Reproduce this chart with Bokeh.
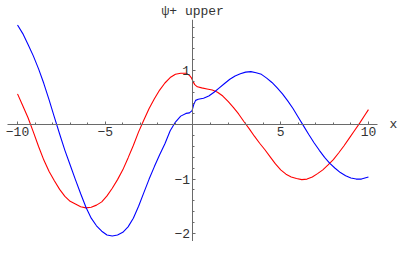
from bokeh.plotting import figure
from bokeh.models import LinearAxis, FixedTicker, Range1d, Label
from bokeh.embed import file_html
from bokeh.resources import INLINE

# ---- data ----
blue_x = [-10, -9.7, -9.4, -9.1, -8.8, -8.5, -8.2, -7.9, -7.6, -7.3, -7.0, -6.7, -6.4,
          -6.1, -5.8, -5.5, -5.2, -4.9, -4.6, -4.3, -4.0, -3.7, -3.4, -3.1, -2.8, -2.5,
          -2.2, -1.9, -1.6, -1.3, -1.0, -0.7, -0.4, -0.2, -0.05, 0.05, 0.15, 0.3, 0.6,
          0.9, 1.2, 1.5, 1.8, 2.1, 2.4, 2.7, 3.0, 3.3, 3.6, 3.9, 4.2, 4.5, 4.8, 5.1, 5.4,
          5.7, 6.0, 6.3, 6.6, 6.9, 7.2, 7.5, 7.8, 8.1, 8.4, 8.7, 9.0, 9.3, 9.6, 9.8, 10]
blue_y = [1.84, 1.68, 1.48, 1.27, 1.03, 0.76, 0.46, 0.14, -0.17, -0.47, -0.74, -1.01,
          -1.27, -1.52, -1.72, -1.86, -1.96, -2.03, -2.05, -2.03, -1.98, -1.88, -1.72,
          -1.50, -1.25, -1.00, -0.77, -0.55, -0.35, -0.11, 0.05, 0.16, 0.21, 0.22, 0.26,
          0.38, 0.45, 0.47, 0.49, 0.53, 0.60, 0.68, 0.76, 0.84, 0.90, 0.94, 0.97, 0.98,
          0.96, 0.93, 0.86, 0.78, 0.68, 0.57, 0.44, 0.30, 0.14, -0.02, -0.18, -0.33,
          -0.47, -0.60, -0.71, -0.80, -0.88, -0.94, -0.98, -1.00, -1.00, -0.98, -0.96]

red_x = [-10, -9.7, -9.4, -9.1, -8.8, -8.5, -8.2, -7.9, -7.6, -7.3, -7.0, -6.7, -6.4,
         -6.1, -5.8, -5.5, -5.2, -4.9, -4.6, -4.3, -4.0, -3.7, -3.4, -3.1, -2.8, -2.5,
         -2.2, -1.9, -1.6, -1.3, -1.0, -0.7, -0.4, -0.2, -0.1, 0.0, 0.1, 0.25, 0.5, 0.8,
         1.1, 1.4, 1.7, 2.0, 2.3, 2.6, 2.9, 3.2, 3.5, 3.8, 4.1, 4.4, 4.7, 5.0, 5.3, 5.6,
         5.9, 6.2, 6.5, 6.8, 7.1, 7.4, 7.7, 8.0, 8.3, 8.6, 8.9, 9.2, 9.5, 9.8, 10]
red_y = [0.57, 0.35, 0.13, -0.13, -0.40, -0.65, -0.86, -1.03, -1.19, -1.32, -1.41,
         -1.46, -1.51, -1.53, -1.52, -1.48, -1.42, -1.31, -1.17, -1.01, -0.83, -0.61,
         -0.38, -0.13, 0.09, 0.30, 0.48, 0.64, 0.77, 0.87, 0.93, 0.95, 0.95, 0.91, 0.87,
         0.80, 0.74, 0.70, 0.68, 0.66, 0.64, 0.60, 0.53, 0.43, 0.32, 0.20, 0.06, -0.07,
         -0.21, -0.34, -0.46, -0.59, -0.72, -0.83, -0.91, -0.96, -0.99, -1.01, -1.00,
         -0.96, -0.90, -0.83, -0.74, -0.64, -0.52, -0.39, -0.25, -0.11, 0.03, 0.18, 0.28]

x_major = [-10, -5, 5, 10]
x_minor = [-10, -9, -8, -7, -6, -5, -4, -3, -2, -1, 0, 1, 2, 3, 4, 5, 6, 7, 8, 9, 10]
x_labels = {-10: "\u221210", -5: "\u22125", 5: "5", 10: "10"}
y_major = [-2, -1, 1]
y_minor = [-2.0, -1.8, -1.6, -1.4, -1.2, -1.0, -0.8, -0.6, -0.4, -0.2, 0.0,
           0.2, 0.4, 0.6, 0.8, 1.0, 1.2, 1.4, 1.6, 1.8]
y_labels = {-2: "\u22122", -1: "\u22121", 1: "1"}

title_text = "\u03c8+ upper"
x_name = "x"

FONT = "Liberation Mono"
AXIS_COLOR = "#6a6a6a"
TEXT_COLOR = "#333333"

p = figure(width=399, height=241, output_backend="svg", toolbar_location=None,
           x_range=Range1d(-10.97, 11.77), y_range=Range1d(-2.15, 1.94),
           x_axis_location=None, y_axis_location=None,
           min_border_left=0, min_border_right=0, min_border_top=0, min_border_bottom=0,
           title=title_text)
p.outline_line_color = None
p.xgrid.visible = False
p.ygrid.visible = False
p.background_fill_color = "white"
p.border_fill_color = "white"

p.title.align = "left"
p.title.offset = 161
p.title.text_font = FONT
p.title.text_font_size = "13px"
p.title.text_font_style = "normal"
p.title.text_color = TEXT_COLOR
p.title.standoff = 2

xaxis = LinearAxis(fixed_location=0, bounds=(-10.56, 10.52),
                   ticker=FixedTicker(ticks=x_major, minor_ticks=x_minor),
                   major_label_overrides=x_labels)
yaxis = LinearAxis(fixed_location=0, bounds=(-2.15, 1.94),
                   ticker=FixedTicker(ticks=y_major, minor_ticks=y_minor),
                   major_label_overrides=y_labels)
for ax in (xaxis, yaxis):
    ax.axis_line_color = AXIS_COLOR
    ax.axis_line_width = 1
    ax.major_tick_line_color = AXIS_COLOR
    ax.minor_tick_line_color = AXIS_COLOR
    ax.major_tick_in = 3
    ax.major_tick_out = 0
    ax.minor_tick_in = 2
    ax.minor_tick_out = 0
    ax.major_label_text_font = FONT
    ax.major_label_text_font_size = "13px"
    ax.major_label_text_color = TEXT_COLOR
xaxis.major_label_standoff = 2
yaxis.major_label_standoff = 3
p.add_layout(xaxis, "below")
p.add_layout(yaxis, "left")

p.line(red_x, red_y, line_color="#ff0000", line_width=1.1)
p.line(blue_x, blue_y, line_color="#0000ff", line_width=1.1)

p.add_layout(Label(x=10.52, y=0, text=x_name, x_offset=12, text_baseline="middle",
                   text_font=FONT, text_font_size="13px", text_color=TEXT_COLOR))

open("out.html", "w").write(file_html(p, INLINE))
